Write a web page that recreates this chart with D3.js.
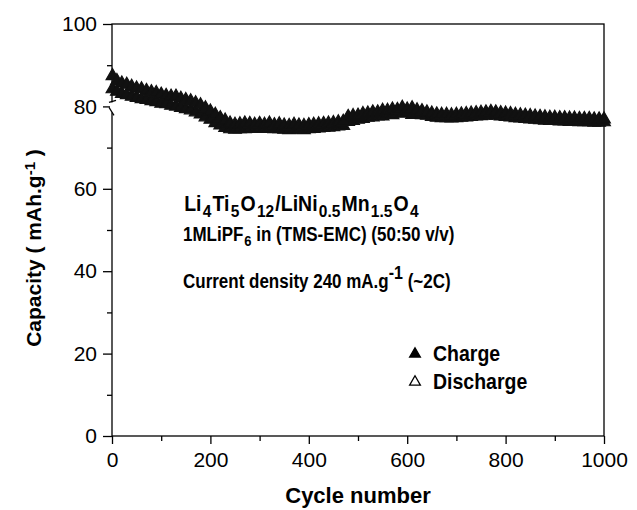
<!DOCTYPE html>
<html><head><meta charset="utf-8">
<script src="https://cdn.jsdelivr.net/npm/d3@7"></script>
<style>body{margin:0;background:#fff}svg{display:block}</style>
</head><body>
<script>
// ---- data ----
const cycles = [1,10,20,30,40,50,60,70,80,90,100,110,120,130,140,150,160,170,180,190,200,210,220,230,240,250,260,270,280,290,300,310,320,330,340,350,360,370,380,390,400,410,420,430,440,450,460,470,480,490,500,510,520,530,540,550,560,570,580,590,600,610,620,630,640,650,660,670,680,690,700,710,720,730,740,750,760,770,780,790,800,810,820,830,840,850,860,870,880,890,900,910,920,930,940,950,960,970,980,990,1000];
const charge = [87.4,86.2,85.6,85.3,84.8,84.4,84.2,83.8,83.5,83.3,82.9,82.6,82.4,82.4,81.9,81.6,81.3,80.8,80.3,79.6,78.8,78.0,77.2,76.6,75.9,75.6,75.7,75.9,75.8,75.6,75.8,75.6,75.9,75.5,75.7,75.4,75.3,75.6,75.4,75.3,75.5,75.6,75.7,75.8,75.9,76.0,76.2,76.3,77.5,77.7,77.8,78.2,78.3,78.6,78.6,79.0,79.0,79.3,79.2,79.7,79.3,79.6,79.1,78.9,78.6,78.3,78.1,78.0,78.0,77.9,78.0,78.1,78.2,78.3,78.4,78.5,78.6,78.7,78.6,78.4,78.3,78.2,78.0,77.9,77.8,77.7,77.6,77.5,77.4,77.3,77.3,77.2,77.2,77.1,77.1,77.0,77.0,77.0,76.9,76.9,76.9];
const discharge = [84.2,83.6,83.1,82.8,82.4,82.1,81.8,81.6,81.3,81.1,80.7,80.6,80.2,80.0,79.7,79.4,79.1,78.6,78.1,77.4,76.8,76.0,75.4,74.8,74.5,74.4,74.5,74.5,74.7,74.6,74.6,74.6,74.7,74.5,74.5,74.4,74.3,74.4,74.4,74.3,74.5,74.6,74.7,74.8,74.9,75.0,75.2,75.3,76.3,76.5,76.8,77.0,77.3,77.4,77.6,77.6,78.0,77.9,78.4,78.3,78.5,78.0,78.3,77.9,77.8,77.5,77.3,77.2,77.2,77.1,77.2,77.3,77.4,77.5,77.6,77.7,77.8,77.9,77.8,77.6,77.5,77.4,77.2,77.1,77.0,76.9,76.8,76.7,76.6,76.5,76.5,76.4,76.4,76.3,76.3,76.2,76.2,76.2,76.1,76.1,76.2];
const xTicks = [0,200,400,600,800,1000];
const yTicks = [0,20,40,60,80,100];
const xMinor = [100,300,500,700,900];
const yMinor = [10,30,50,70,90];
const legendItems = ["Charge","Discharge"];

// ---- layout ----
const W = 637, H = 510;
const m = {left:112, top:24, right:33, bottom:74};
const svg = d3.select("body").append("svg").attr("width",W).attr("height",H);
const x = d3.scaleLinear().domain([0,1000]).range([m.left, W-m.right]);
const y = d3.scaleLinear().domain([0,100]).range([H-m.bottom, m.top]);
const font = "Liberation Sans, Arial, Helvetica, sans-serif";

// frame
svg.append("rect").attr("x",x(0)).attr("y",y(100)).attr("width",x(1000)-x(0)).attr("height",y(0)-y(100))
  .attr("fill","none").attr("stroke","#000").attr("stroke-width",1.3);

// axes
const xa = svg.append("g").attr("transform",`translate(0,${y(0)})`)
  .call(d3.axisBottom(x).tickValues(xTicks).tickSize(8).tickPadding(6).tickFormat(d3.format("d")));
const xm = svg.append("g").attr("transform",`translate(0,${y(0)})`)
  .call(d3.axisBottom(x).tickValues(xMinor).tickSize(5).tickFormat(""));
const ya = svg.append("g").attr("transform",`translate(${x(0)},0)`)
  .call(d3.axisLeft(y).tickValues(yTicks).tickSize(9).tickPadding(6).tickFormat(d3.format("d")));
const ym = svg.append("g").attr("transform",`translate(${x(0)},0)`)
  .call(d3.axisLeft(y).tickValues(yMinor).tickSize(5).tickFormat(""));
[xa,xm,ya,ym].forEach(g=>{
  g.select(".domain").remove();
  g.selectAll("line").attr("stroke","#000").attr("stroke-width",1.3);
  g.selectAll("text").attr("font-family",font).attr("font-size",21).attr("fill","#000");
});
xa.selectAll("text").attr("dy","0.8em");

// axis break on left axis
const bx = x(0), by1 = y(80)-4, by2 = y(80)+6;
svg.append("rect").attr("x",bx-2).attr("y",by1).attr("width",4).attr("height",by2-by1).attr("fill","#fff");
svg.append("line").attr("x1",bx-3).attr("y1",by1).attr("x2",bx+4).attr("y2",by1-2).attr("stroke","#000").attr("stroke-width",1.2);
svg.append("line").attr("x1",bx-3).attr("y1",by2-5).attr("x2",bx+2).attr("y2",by2+3).attr("stroke","#000").attr("stroke-width",1.2);

// markers
const tri = d3.symbol().type(d3.symbolTriangle).size(70);
const plot = svg.append("g");
plot.selectAll("path.d").data(cycles).join("path").attr("class","d")
  .attr("transform",(c,i)=>`translate(${x(c)},${y(discharge[i])})`)
  .attr("d",tri).attr("fill","#111").attr("stroke","#111").attr("stroke-width",1.2);
plot.selectAll("path.c").data(cycles).join("path").attr("class","c")
  .attr("transform",(c,i)=>`translate(${x(c)},${y(charge[i])})`)
  .attr("d",tri).attr("fill","#111").attr("stroke","#111").attr("stroke-width",1.2);

// annotation text (slightly tall letters, as in the reference)
const tx = 183;
const line = (yy, sy) => svg.append("g").attr("transform",`translate(${tx},${yy}) scale(1,${sy})`)
  .append("text").attr("x",0).attr("y",0).attr("font-family",font).attr("font-weight","bold");
const t1 = line(211, 1.1).attr("font-size",19.5);
[["Li",0],["4",1],["Ti",0],["5",1],["O",0],["12",1],["/LiNi",0],["0.5",1],["Mn",0],["1.5",1],["O",0],["4",1]].forEach(([s,sub])=>{
  t1.append("tspan").text(s).attr("font-size",sub?15.5:19.5).attr("dx",1.2).attr("baseline-shift",sub?"-35%":null);
});
const t2 = line(241, 1.15).attr("font-size",17);
t2.append("tspan").text("1MLiPF");
t2.append("tspan").text("6").attr("font-size",13).attr("dx",1).attr("baseline-shift","-35%");
t2.append("tspan").text(" in (TMS-EMC) (50:50 v/v)");
const t3 = line(288, 1.15).attr("font-size",17);
t3.append("tspan").text("Current density 240 mA.g");
t3.append("tspan").text("-1").attr("font-size",16).attr("baseline-shift","45%");
t3.append("tspan").text(" (~2C)");

// legend
const lg = svg.append("g");
legendItems.forEach((name,i)=>{
  const ly = 354 + i*28;
  lg.append("path").attr("transform",`translate(415,${ly})`).attr("d",d3.symbol().type(d3.symbolTriangle).size(50))
    .attr("fill",i===0?"#000":"#fff").attr("stroke","#000").attr("stroke-width",1.3);
  lg.append("g").attr("transform",`translate(433,${ly+7}) scale(1,1.1)`)
    .append("text").text(name).attr("font-family",font).attr("font-weight","bold").attr("font-size",19.5);
});

// axis titles
svg.append("text").attr("x",(x(0)+x(1000))/2).attr("y",503).attr("text-anchor","middle")
  .attr("font-family",font).attr("font-weight","bold").attr("font-size",22).text("Cycle number");
const yl = svg.append("text").attr("transform",`translate(41,${(y(0)+y(100))/2+18}) rotate(-90)`).attr("text-anchor","middle")
  .attr("font-family",font).attr("font-weight","bold").attr("font-size",21);
yl.append("tspan").text("Capacity ( mAh.g");
yl.append("tspan").text("-1").attr("font-size",15).attr("baseline-shift","40%");
yl.append("tspan").text(" )");
</script>
</body></html>
